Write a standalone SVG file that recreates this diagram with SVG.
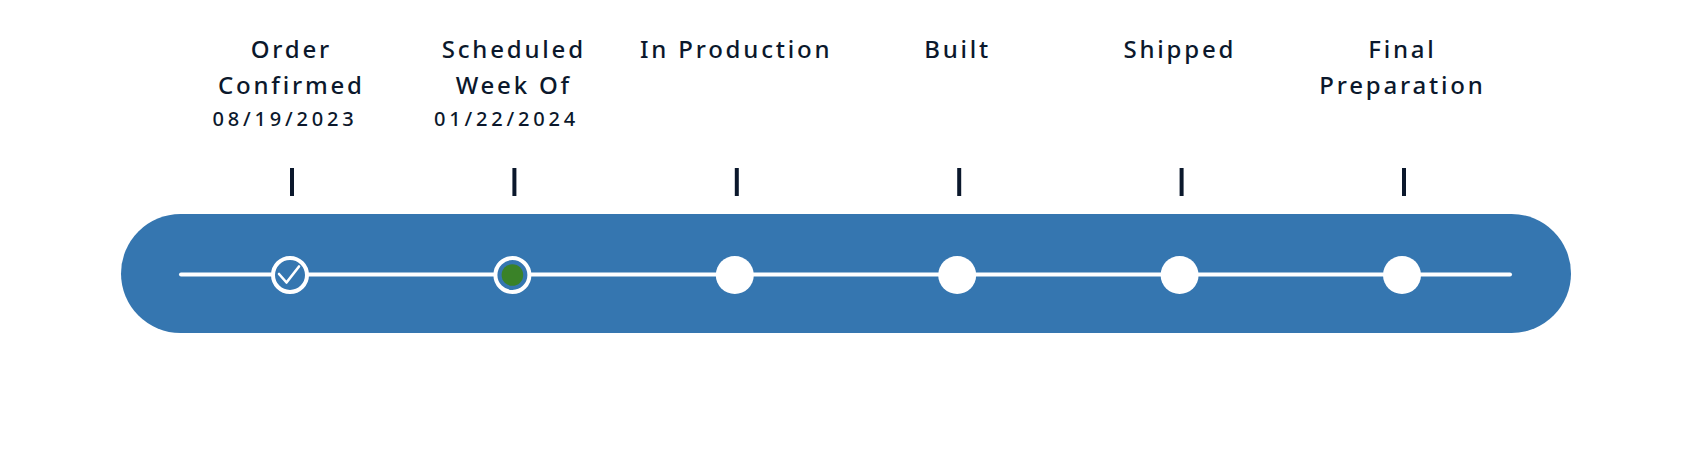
<svg xmlns="http://www.w3.org/2000/svg" width="1688" height="476" viewBox="0 0 1688 476">
  <style>
    .lbl { font-family: "Noto Sans", "Liberation Sans", sans-serif; font-size: 24px; font-weight: 500; letter-spacing: 2.8px; fill: #0b182c; text-anchor: middle; }
    .date { font-family: "Noto Sans", "Liberation Sans", sans-serif; font-size: 20px; font-weight: 500; letter-spacing: 3.8px; fill: #0b182c; text-anchor: middle; }
    .tick { stroke: #0b182c; stroke-width: 4; }
    .node { fill: #ffffff; }
    .ring { fill: #3576b0; stroke: #ffffff; stroke-width: 4; }
  </style>
  <rect x="0" y="0" width="1688" height="476" fill="#ffffff"/>
  <rect id="track" x="121" y="214" width="1450" height="119" rx="59.5" ry="59.5" fill="#3576b0"/>
  <g id="connectors">
    <line x1="181" y1="274.5" x2="1510" y2="274.5" stroke="#ffffff" stroke-width="4" stroke-linecap="round"/>
  </g>
  <g id="node-order-confirmed">
    <text class="lbl" x="291.4" y="58">Order</text>
    <text class="lbl" x="291.4" y="94">Confirmed</text>
    <text class="date" x="285" y="126">08/19/2023</text>
    <line class="tick" x1="292" y1="168" x2="292" y2="196"/>
    <circle class="ring" cx="290" cy="275" r="17"/>
    <path d="M279 274 L286.5 282.5 L299 266.5" fill="none" stroke="#ffffff" stroke-width="2.6" stroke-linecap="round" stroke-linejoin="round"/>
  </g>
  <g id="node-scheduled">
    <text class="lbl" x="513.8" y="58">Scheduled</text>
    <text class="lbl" x="513.8" y="94">Week Of</text>
    <text class="date" x="506.5" y="126">01/22/2024</text>
    <line class="tick" x1="514.4" y1="168" x2="514.4" y2="196"/>
    <circle class="ring" cx="512.4" cy="275" r="17"/>
    <circle cx="512.4" cy="275" r="10.8" fill="#3a8228"/>
  </g>
  <g id="node-in-production">
    <text class="lbl" x="736.2" y="58">In Production</text>
    <line class="tick" x1="736.8" y1="168" x2="736.8" y2="196"/>
    <circle class="node" cx="734.8" cy="275" r="19"/>
  </g>
  <g id="node-built">
    <text class="lbl" x="957.6" y="58">Built</text>
    <line class="tick" x1="959.2" y1="168" x2="959.2" y2="196"/>
    <circle class="node" cx="957.2" cy="275" r="19"/>
  </g>
  <g id="node-shipped">
    <text class="lbl" x="1179.8" y="58">Shipped</text>
    <line class="tick" x1="1181.6" y1="168" x2="1181.6" y2="196"/>
    <circle class="node" cx="1179.6" cy="275" r="19"/>
  </g>
  <g id="node-final-preparation">
    <text class="lbl" x="1402.4" y="58">Final</text>
    <text class="lbl" x="1402.4" y="94">Preparation</text>
    <line class="tick" x1="1404" y1="168" x2="1404" y2="196"/>
    <circle class="node" cx="1402" cy="275" r="19"/>
  </g>
</svg>
